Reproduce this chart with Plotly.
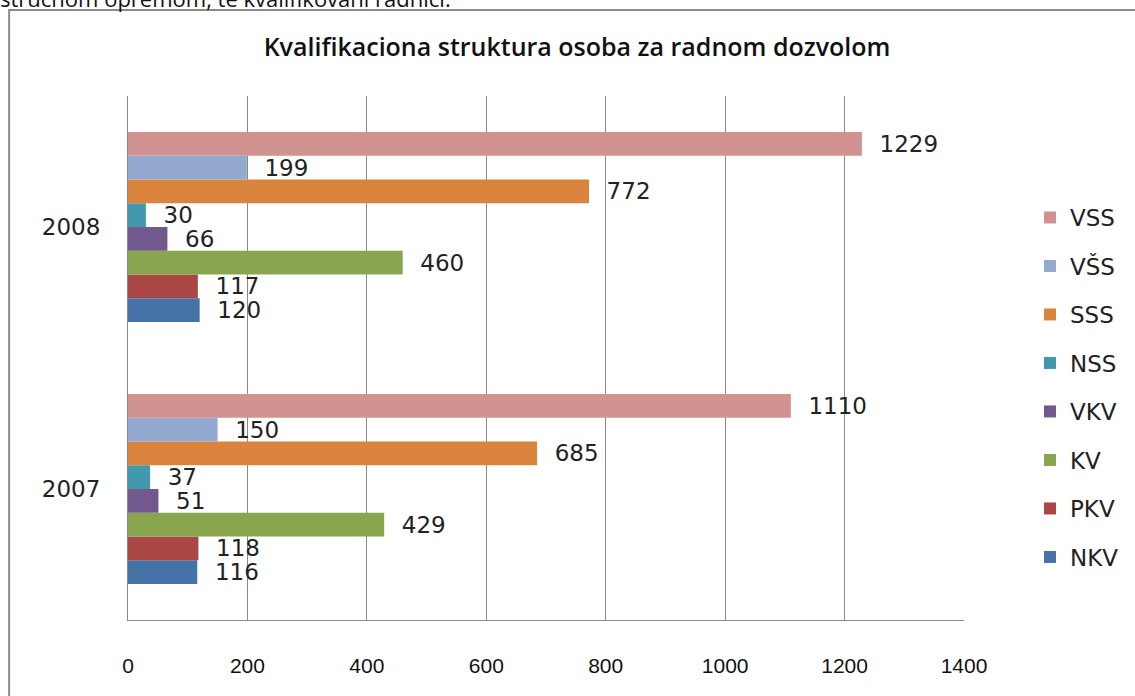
import plotly.graph_objects as go

years = ["2007", "2008"]
levels = ["NKV", "PKV", "KV", "VKV", "NSS", "SSS", "VŠS", "VSS"]
values = {
    "NKV": [116, 120],
    "PKV": [118, 117],
    "KV": [429, 460],
    "VKV": [51, 66],
    "NSS": [37, 30],
    "SSS": [685, 772],
    "VŠS": [150, 199],
    "VSS": [1110, 1229],
}
colors = {
    "NKV": "#4572A7",
    "PKV": "#AA4643",
    "KV": "#89A54E",
    "VKV": "#71588F",
    "NSS": "#4198AF",
    "SSS": "#DB843D",
    "VŠS": "#93A9CF",
    "VSS": "#D19392",
}
x_ticks = [0, 200, 400, 600, 800, 1000, 1200, 1400]

W, H = 1135, 696
ml, mr, mt, mb = 128, 170, 96, 76
pw, ph = W - ml - mr, H - mt - mb


def px_x(p):
    return (p - ml) / pw


def px_y(p):
    return (H - mb - p) / ph


fig = go.Figure()
for i, lv in enumerate(levels):
    fig.add_trace(go.Bar(
        name=lv,
        y=years,
        x=values[lv],
        orientation="h",
        marker=dict(color=colors[lv], line=dict(width=0)),
        text=values[lv],
        texttemplate="  %{text}",
        textposition="outside",
        constraintext="none",
        cliponaxis=False,
        textfont=dict(family="DejaVu Sans", size=23, color="#222222"),
        legendgroup=lv,
        legendrank=100 - i,
    ))

fig.update_layout(
    width=W, height=H,
    margin=dict(l=ml, r=mr, t=mt, b=mb),
    paper_bgcolor="white",
    plot_bgcolor="white",
    barmode="group",
    bargap=0.275,
    bargroupgap=0,
    showlegend=True,
    legend=dict(
        traceorder="grouped",
        tracegroupgap=15.6,
        x=px_x(1030), xanchor="left",
        y=px_y(196), yanchor="top",
        font=dict(family="DejaVu Sans", size=23, color="#222222"),
        itemwidth=30,
        bgcolor="rgba(0,0,0,0)",
    ),
    title=dict(
        text="Kvalifikaciona struktura osoba za radnom dozvolom",
        x=577 / W, xanchor="center",
        y=1 - 47 / H, yanchor="middle",
        font=dict(family="Open Sans", size=25, color="#111111", weight=600),
    ),
    xaxis=dict(
        range=[0, 1400],
        tickvals=x_ticks,
        ticktext=[str(v) for v in x_ticks],
        showgrid=True,
        gridcolor="#8a8a8a",
        gridwidth=1,
        showline=True,
        linecolor="#8a8a8a",
        linewidth=1,
        zeroline=False,
        ticks="",
        ticklabelstandoff=27,
        tickfont=dict(family="Liberation Sans", size=21, color="#111111"),
    ),
    yaxis=dict(
        categoryorder="array",
        categoryarray=years,
        showgrid=False,
        showline=True,
        linecolor="#8a8a8a",
        linewidth=1,
        ticks="",
        ticklabelstandoff=22,
        tickfont=dict(family="DejaVu Sans", size=23, color="#222222"),
    ),
    shapes=[dict(
        type="rect", xref="paper", yref="paper",
        x0=px_x(9), x1=px_x(W + 20),
        y0=px_y(H + 20), y1=px_y(10),
        line=dict(color="#8a8a8a", width=2),
        fillcolor="rgba(0,0,0,0)",
        layer="below",
    )],
    annotations=[dict(
        text="stručnom opremom, te kvalifikovani radnici.",
        xref="paper", yref="paper",
        x=px_x(-2), xanchor="left",
        y=px_y(15), yanchor="bottom",
        showarrow=False,
        font=dict(family="Open Sans", size=22, color="#111111"),
    )],
)

fig.write_html("out.html")
